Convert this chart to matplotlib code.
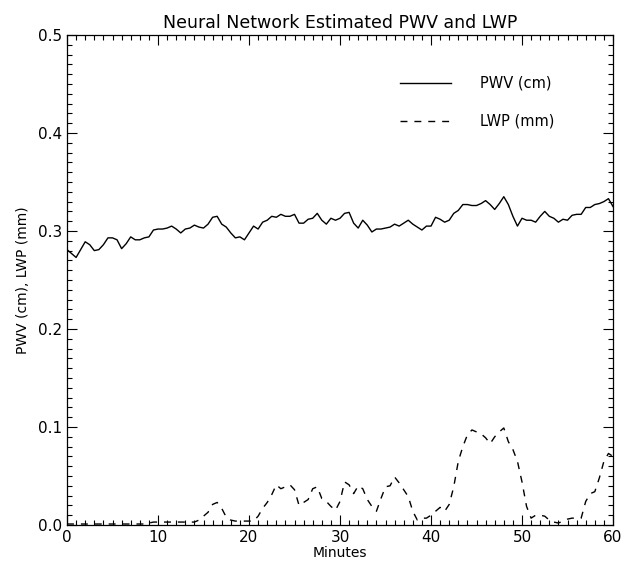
import numpy as np
import matplotlib
matplotlib.use("Agg")
import matplotlib.pyplot as plt

# minutes sampled every half minute
minutes = np.arange(0, 60.5, 0.5)

pwv = [0.281, 0.277, 0.273, 0.281, 0.289, 0.286, 0.280, 0.281, 0.286, 0.293,
       0.293, 0.291, 0.282, 0.287, 0.294, 0.291, 0.291, 0.293, 0.294, 0.301,
       0.302, 0.302, 0.303, 0.305, 0.302, 0.298, 0.302, 0.303, 0.306, 0.304,
       0.303, 0.307, 0.314, 0.315, 0.307, 0.304, 0.298, 0.293, 0.294, 0.291,
       0.298, 0.305, 0.302, 0.309, 0.311, 0.315, 0.314, 0.317, 0.315, 0.315,
       0.317, 0.308, 0.308, 0.312, 0.313, 0.318, 0.311, 0.307, 0.313, 0.311,
       0.313, 0.318, 0.319, 0.308, 0.303, 0.311, 0.306, 0.299, 0.302, 0.302,
       0.303, 0.304, 0.307, 0.305, 0.308, 0.311, 0.307, 0.304, 0.301, 0.305,
       0.305, 0.314, 0.312, 0.309, 0.311, 0.318, 0.321, 0.327, 0.327, 0.326,
       0.326, 0.328, 0.331, 0.327, 0.322, 0.328, 0.335, 0.327, 0.315, 0.305,
       0.313, 0.311, 0.311, 0.309, 0.315, 0.320, 0.315, 0.313, 0.309, 0.312,
       0.311, 0.316, 0.317, 0.317, 0.324, 0.324, 0.327, 0.328, 0.330, 0.333,
       0.325]

lwp = [0.001, 0.001, 0.001, 0.001, 0.001, 0.001, 0.001, 0.001, 0.001, 0.001,
       0.001, 0.001, 0.001, 0.001, 0.001, 0.001, 0.001, 0.001, 0.002, 0.003,
       0.003, 0.003, 0.003, 0.003, 0.003, 0.003, 0.003, 0.003, 0.003, 0.005,
       0.009, 0.013, 0.021, 0.023, 0.017, 0.008, 0.005, 0.004, 0.004, 0.004,
       0.004, 0.004, 0.009, 0.017, 0.023, 0.031, 0.041, 0.037, 0.039, 0.041,
       0.036, 0.020, 0.023, 0.026, 0.037, 0.039, 0.027, 0.024, 0.019, 0.015,
       0.024, 0.044, 0.041, 0.032, 0.040, 0.037, 0.026, 0.019, 0.014, 0.027,
       0.039, 0.040, 0.049, 0.043, 0.036, 0.029, 0.014, 0.005, 0.007, 0.007,
       0.010, 0.014, 0.018, 0.014, 0.021, 0.039, 0.065, 0.080, 0.092, 0.097,
       0.095, 0.093, 0.089, 0.083, 0.090, 0.095, 0.099, 0.085, 0.077, 0.065,
       0.044, 0.019, 0.007, 0.010, 0.010, 0.009, 0.005, 0.003, 0.002, 0.004,
       0.006, 0.007, 0.007, 0.007, 0.024, 0.032, 0.034, 0.048, 0.065, 0.073,
       0.070]

fig = plt.figure(figsize=(6.24, 5.64), dpi=100)
ax = fig.add_axes([67/624, 39/564, 546/624, 490/564])

ax.plot(minutes, pwv, color='black', lw=1.0)
ax.plot(minutes, lwp, color='black', lw=1.0, linestyle=(0, (5, 5)))

ax.set_xlim(0, 60)
ax.set_ylim(0, 0.5)
ax.set_xticks(np.arange(0, 61, 10))
ax.set_xticks(np.arange(0, 61, 1), minor=True)
ax.set_yticks(np.arange(0, 0.51, 0.1))
ax.set_yticks(np.arange(0, 0.501, 0.01), minor=True)
ax.set_yticklabels(['0.0', '0.1', '0.2', '0.3', '0.4', '0.5'])
ax.tick_params(which='both', direction='in', top=True, right=True, labelsize=11, width=0.8)
ax.tick_params(which='major', length=7)
ax.tick_params(which='minor', length=3.5)
for s in ax.spines.values():
    s.set_linewidth(0.9)

ax.set_title('Neural Network Estimated PWV and LWP', fontsize=12.5, pad=5)
ax.set_xlabel('Minutes', fontsize=10, labelpad=1)
ax.set_ylabel('PWV (cm), LWP (mm)', fontsize=10, labelpad=6)

# legend drawn by hand like the IDL plot
ax.plot([0.610, 0.703], [0.902, 0.902], color='black', lw=1.0, transform=ax.transAxes)
ax.plot([0.610, 0.703], [0.824, 0.824], color='black', lw=1.0, linestyle=(0, (5, 5)),
        transform=ax.transAxes)
ax.text(0.756, 0.902, 'PWV (cm)', transform=ax.transAxes, va='center', fontsize=10.5)
ax.text(0.756, 0.824, 'LWP (mm)', transform=ax.transAxes, va='center', fontsize=10.5)

fig.savefig('out.png', dpi=100)
